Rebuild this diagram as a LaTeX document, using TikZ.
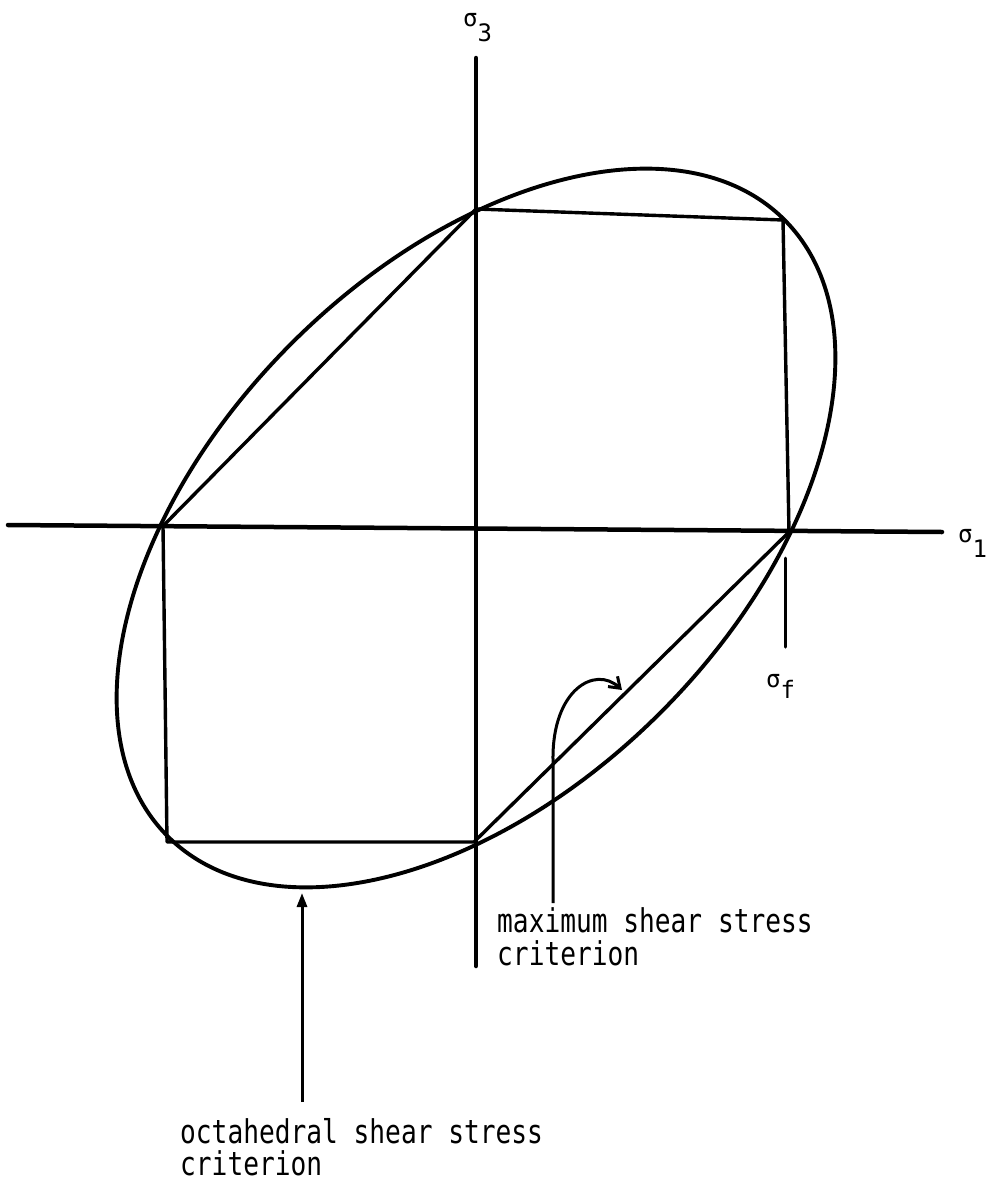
\documentclass[tikz,border=0pt]{standalone}
\usepackage{fontspec}
\newfontfamily\monofont{DejaVu Sans Mono}
\usetikzlibrary{arrows.meta}
\begin{document}
\begin{tikzpicture}[x=1pt,y=-1pt,
  axis/.style={line width=4.5pt, line cap=round},
  crit/.style={line width=3.9pt},
  hexa/.style={line width=3.4pt, line join=round},
  pointer/.style={line width=3pt},
  sym/.style={font=\monofont\fontsize{24}{24}\selectfont, inner sep=0pt, anchor=base west},
  caption/.style={font=\monofont\fontsize{26.2}{24}\selectfont, inner sep=0pt, anchor=base west}]
\useasboundingbox (0,0) rectangle (991,1183);
% centre and axes
\coordinate (O) at (476,528);
\coordinate (xa) at (8,525);
\coordinate (xb) at (942,532);
\coordinate (ya) at (476,58);
\coordinate (yb) at (476,966);
\draw[axis] (xa) -- (xb);
\draw[axis] (ya) -- (yb);
% octahedral (von Mises) ellipse
\draw[crit, rotate around={45:(O)}] (O) ellipse [x radius=436, y radius=261];
% maximum shear stress (Tresca) hexagon
\coordinate (T) at (476,209);
\coordinate (TR) at (783,220);
\coordinate (R) at (789,532);
\coordinate (B) at (474,842);
\coordinate (BL) at (167,842);
\coordinate (L) at (163,526);
\draw[hexa] (L) -- (T) -- (TR) -- (R) -- (B) -- (BL) -- cycle;
% axis labels
\node[sym] (s3) at (463,27) {σ\raisebox{-15pt}{3}};
\node[sym] (s1) at (958,542) {σ\raisebox{-15pt}{1}};
\node[sym] (sf) at (766,687) {σ\raisebox{-11pt}{f}};
\coordinate (ft1) at (785,558);
\coordinate (ft2) at (785,647);
\draw[pointer, line cap=round] (ft1) -- (ft2);
% pointers
\coordinate (oa) at (302,1102);
\coordinate (ob) at (302,893);
\draw[pointer, -{Triangle[length=14pt,width=10pt]}] (oa) -- (ob);
\coordinate (hb) at (553,903);
\coordinate (hm) at (553,760);
\coordinate (hk) at (622,690);
\draw[pointer, -{Straight Barb[length=10pt,width=14pt]}] (hb) -- (hm) .. controls (552,690) and (595,665) .. (hk);
% captions
\node[caption] (mx) at (497,932) {\scalebox{1}[1.25]{\begin{tabular}[t]{@{}l@{}}maximum shear stress\\criterion\end{tabular}}};
\node[caption] (oc) at (180,1143) {\scalebox{1}[1.25]{\fontsize{26.2}{21.6}\selectfont\begin{tabular}[t]{@{}l@{}}octahedral shear stress\\criterion\end{tabular}}};
\end{tikzpicture}
\end{document}
